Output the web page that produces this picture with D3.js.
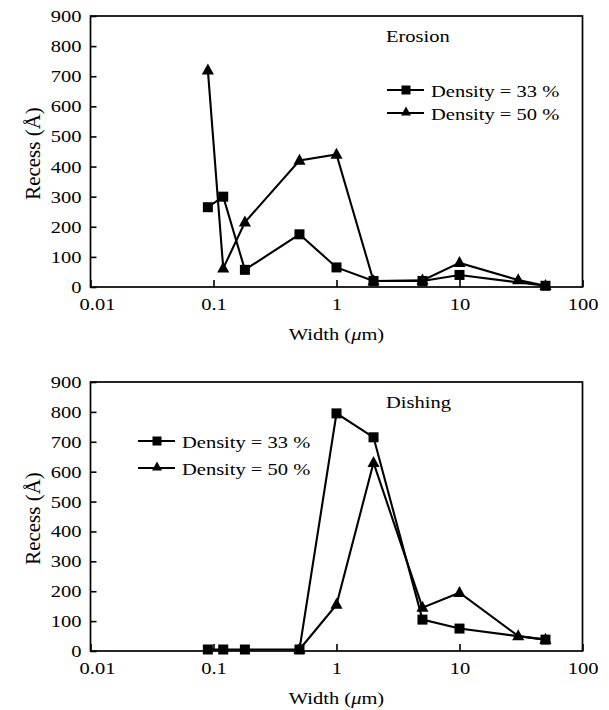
<!DOCTYPE html>
<html>
<head>
<meta charset="utf-8">
<script src="https://cdn.jsdelivr.net/npm/d3@7"></script>
<style>
	html, body { margin: 0; padding: 0; background: #fff; }
</style>
</head>
<body>
<div id="chart"></div>
<script>
// values (width in um, recess in angstrom)
let erosionWidth33 = [0.09, 0.12, 0.18, 0.5, 1, 2, 5, 10, 50];
let erosionRecess33 = [265, 300, 57, 175, 65, 20, 20, 40, 4];
let erosionWidth50 = [0.09, 0.12, 0.18, 0.5, 1, 2, 5, 10, 30, 50];
let erosionRecess50 = [720, 62, 215, 420, 440, 20, 22, 80, 23, 4];

let dishingWidth33 = [0.09, 0.12, 0.18, 0.5, 1, 2, 5, 10, 50];
let dishingRecess33 = [5, 5, 5, 5, 795, 715, 105, 75, 38];
let dishingWidth50 = [0.5, 1, 2, 5, 10, 30, 50];
let dishingRecess50 = [5, 155, 630, 145, 195, 50, 38];

let xTicks = [0.01, 0.1, 1, 10, 100];
let xTickLabels = ["0.01", "0.1", "1", "10", "100"];
let yTicks = [0, 100, 200, 300, 400, 500, 600, 700, 800, 900];
let legendLabels = ["Density = 33 %", "Density = 50 %"];

let width = 609;
let height = 710;
let squash = 0.84; // text in the figure is a bit flattened
let serif = "'Liberation Serif', 'Times New Roman', Times, serif";
let fs = "20.5px";

let svg = d3.select("#chart").append("svg")
	.attr("width", width)
	.attr("height", height)
	.style("font-family", serif);

function triPath(s) {
	return "M0," + (-0.62 * s) + "L" + (0.55 * s) + "," + (0.38 * s) + "L" + (-0.55 * s) + "," + (0.38 * s) + "Z";
}

function drawPanel(opts) {
	let left = 90.5, right = 582.5;
	let top = opts.top, bottom = opts.bottom;

	let x = d3.scaleLog().domain([0.01, 100]).range([left, right]);
	let y = d3.scaleLinear().domain([0, 900]).range([bottom, top]);

	let g = svg.append("g");

	// axes with inward ticks
	let xAxis = d3.axisBottom(x)
		.tickValues(xTicks)
		.tickSizeInner(-7)
		.tickSizeOuter(0)
		.tickFormat(function(d, i) { return xTickLabels[i]; });

	let yAxis = d3.axisLeft(y)
		.tickValues(yTicks)
		.tickSizeInner(-6)
		.tickSizeOuter(0)
		.tickPadding(9);

	let gx = g.append("g")
		.attr("transform", "translate(0," + bottom + ")")
		.call(xAxis)
		.attr("font-family", null)
		.attr("font-size", null);
	gx.select(".domain").remove();
	gx.selectAll(".tick line").attr("stroke", "#000").attr("stroke-width", 1.6);
	gx.selectAll(".tick text")
		.attr("y", 27.5)
		.attr("dy", null)
		.attr("dx", function(d, i) { return i == 0 ? 6.5 : 0; })
		.attr("transform", "scale(1," + squash + ")")
		.style("font-family", serif)
		.style("font-size", fs);

	let gy = g.append("g")
		.attr("transform", "translate(" + left + ",0)")
		.call(yAxis)
		.attr("font-family", null)
		.attr("font-size", null);
	gy.select(".domain").remove();
	gy.selectAll(".tick line").attr("stroke", "#000").attr("stroke-width", 1.6);
	gy.selectAll(".tick text")
		.attr("transform", "scale(1," + squash + ")")
		.style("font-family", serif)
		.style("font-size", fs);

	g.append("rect")
		.attr("x", left)
		.attr("y", top)
		.attr("width", right - left)
		.attr("height", bottom - top)
		.attr("fill", "none")
		.attr("stroke", "#000")
		.attr("stroke-width", 1.7);

	// axis titles
	let xt = g.append("text")
		.attr("transform", "translate(" + ((left + right) / 2) + "," + (bottom + 53) + ") scale(1," + squash + ")")
		.attr("text-anchor", "middle")
		.style("font-family", serif)
		.style("font-size", fs);
	xt.append("tspan").text("Width (");
	xt.append("tspan").style("font-style", "italic").text("\u03bc");
	xt.append("tspan").text("m)");

	g.append("text")
		.attr("transform", "translate(40," + ((top + bottom) / 2 + 2) + ") rotate(-90)")
		.attr("text-anchor", "middle")
		.style("font-family", serif)
		.style("font-size", "21px")
		.text("Recess (\u00c5)");

	g.append("text")
		.attr("transform", "translate(386," + (top + 26) + ") scale(1," + squash + ")")
		.style("font-family", serif)
		.style("font-size", fs)
		.text(opts.title);

	let line = d3.line()
		.x(function(d) { return x(d[0]); })
		.y(function(d) { return y(d[1]); });

	let tri = d3.zip(opts.w50, opts.r50);
	let sq = d3.zip(opts.w33, opts.r33);

	// triangles first so squares sit on top where they overlap
	g.append("path")
		.datum(tri)
		.attr("d", line)
		.attr("fill", "none")
		.attr("stroke", "#000")
		.attr("stroke-width", 2.1);
	g.selectAll(".tri").data(tri).enter().append("path")
		.attr("class", "tri")
		.attr("transform", function(d) { return "translate(" + x(d[0]) + "," + y(d[1]) + ")"; })
		.attr("d", triPath(11))
		.attr("fill", "#000");

	g.append("path")
		.datum(sq)
		.attr("d", line)
		.attr("fill", "none")
		.attr("stroke", "#000")
		.attr("stroke-width", 2.1);
	g.selectAll(".sq").data(sq).enter().append("rect")
		.attr("class", "sq")
		.attr("x", function(d) { return x(d[0]) - 5; })
		.attr("y", function(d) { return y(d[1]) - 5; })
		.attr("width", 10)
		.attr("height", 10)
		.attr("fill", "#000");

	// legend
	let lg = g.append("g");
	legendLabels.forEach(function(lbl, i) {
		let cy = opts.legendY[i];
		lg.append("line")
			.attr("x1", opts.legendX)
			.attr("x2", opts.legendX + 37)
			.attr("y1", cy)
			.attr("y2", cy)
			.attr("stroke", "#000")
			.attr("stroke-width", 2.1);
		if (i == 0) {
			lg.append("rect")
				.attr("x", opts.legendX + 14.5)
				.attr("y", cy - 4.5)
				.attr("width", 9)
				.attr("height", 9)
				.attr("fill", "#000");
		} else {
			lg.append("path")
				.attr("transform", "translate(" + (opts.legendX + 19) + "," + (cy - 1) + ")")
				.attr("d", triPath(9))
				.attr("fill", "#000");
		}
		lg.append("text")
			.attr("transform", "translate(" + (opts.legendX + 44) + "," + (cy + 6.5) + ") scale(1," + squash + ")")
			.style("font-family", serif)
			.style("font-size", fs)
			.text(lbl);
	});
}

drawPanel({
	top: 16, bottom: 287, title: "Erosion",
	w33: erosionWidth33, r33: erosionRecess33,
	w50: erosionWidth50, r50: erosionRecess50,
	legendX: 387, legendY: [90, 113]
});

drawPanel({
	top: 382, bottom: 651, title: "Dishing",
	w33: dishingWidth33, r33: dishingRecess33,
	w50: dishingWidth50, r50: dishingRecess50,
	legendX: 138, legendY: [441, 468]
});
</script>
</body>
</html>
